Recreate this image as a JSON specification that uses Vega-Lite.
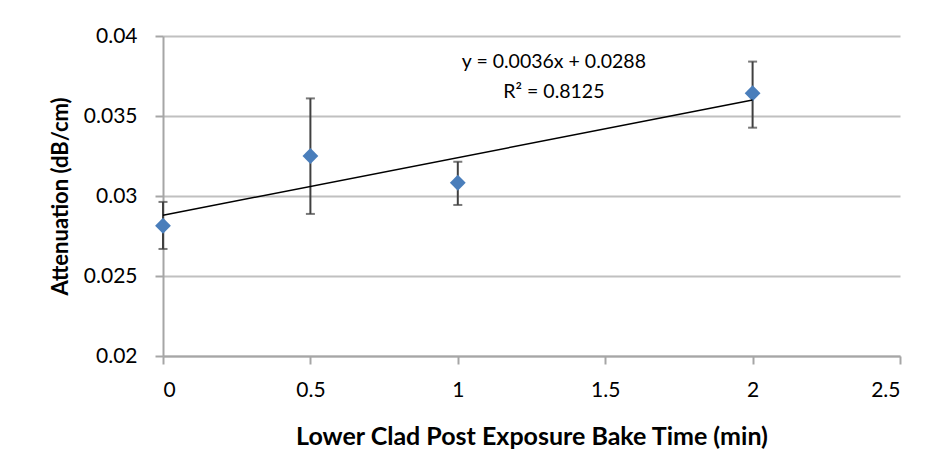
{
  "$schema": "https://vega.github.io/schema/vega-lite/v6.json",
  "width": 737,
  "height": 320,
  "autosize": {"type": "none"},
  "padding": {"left": 163, "top": 36, "right": 33, "bottom": 117},
  "background": "white",
  "config": {
    "view": {"stroke": null},
    "font": "Lato",
    "axis": {
      "labelFont": "Lato",
      "titleFont": "Lato",
      "labelColor": "#000000",
      "titleColor": "#000000",
      "domainColor": "#a6a6a6",
      "domainWidth": 2,
      "tickColor": "#a6a6a6",
      "tickWidth": 2,
      "tickSize": 8,
      "labelFontSize": 21,
      "titleFontWeight": "bold",
      "gridColor": "#c0c0c0",
      "gridWidth": 2
    }
  },
  "datasets": {
    "measurements": [
      {"time": 0, "attenuation": 0.02814, "low": 0.02669, "high": 0.02963},
      {"time": 0.5, "attenuation": 0.0325, "low": 0.02888, "high": 0.0361},
      {"time": 1, "attenuation": 0.03083, "low": 0.02944, "high": 0.03214},
      {"time": 2, "attenuation": 0.03642, "low": 0.03427, "high": 0.0384}
    ],
    "trend": [
      {"time": 0, "fit": 0.0288},
      {"time": 2, "fit": 0.036}
    ]
  },
  "layer": [
    {
      "data": {"name": "measurements"},
      "mark": {"type": "errorbar", "color": "#404040", "thickness": 2, "ticks": {"size": 9, "color": "#404040"}},
      "encoding": {
        "x": {
          "field": "time", "type": "quantitative",
          "scale": {"domain": [0, 2.5], "nice": false, "zero": false},
          "axis": {
            "values": [0, 0.5, 1, 1.5, 2, 2.5], "format": "~g", "grid": false,
            "title": "Lower Clad Post Exposure Bake Time (min)",
            "labelPadding": 15, "titlePadding": 24, "titleFontSize": 25
          }
        },
        "y": {
          "field": "low", "type": "quantitative",
          "scale": {"domain": [0.02, 0.04], "nice": false, "zero": false},
          "axis": {
            "values": [0.02, 0.025, 0.03, 0.035, 0.04], "format": "~g", "grid": true,
            "title": "Attenuation (dB/cm)",
            "labelPadding": 18, "titlePadding": 11, "titleFontSize": 22
          }
        },
        "y2": {"field": "high"}
      }
    },
    {
      "data": {"name": "measurements"},
      "mark": {"type": "point", "shape": "diamond", "filled": true, "color": "#4a7ebb", "opacity": 1, "size": 250},
      "encoding": {
        "x": {"field": "time", "type": "quantitative"},
        "y": {"field": "attenuation", "type": "quantitative"}
      }
    },
    {
      "data": {"name": "trend"},
      "mark": {"type": "line", "color": "#000000", "strokeWidth": 1.5},
      "encoding": {
        "x": {"field": "time", "type": "quantitative"},
        "y": {"field": "fit", "type": "quantitative"}
      }
    },
    {
      "data": {"values": [{}]},
      "mark": {"type": "text", "text": "y = 0.0036x + 0.0288", "fontSize": 19.5, "font": "Lato", "color": "#000000", "align": "center", "baseline": "middle"},
      "encoding": {
        "x": {"datum": 1.326, "type": "quantitative"},
        "y": {"datum": 0.0384, "type": "quantitative"}
      }
    },
    {
      "data": {"values": [{}]},
      "mark": {"type": "text", "text": "R² = 0.8125", "fontSize": 19.5, "font": "Lato", "color": "#000000", "align": "center", "baseline": "middle"},
      "encoding": {
        "x": {"datum": 1.326, "type": "quantitative"},
        "y": {"datum": 0.0365, "type": "quantitative"}
      }
    }
  ]
}
